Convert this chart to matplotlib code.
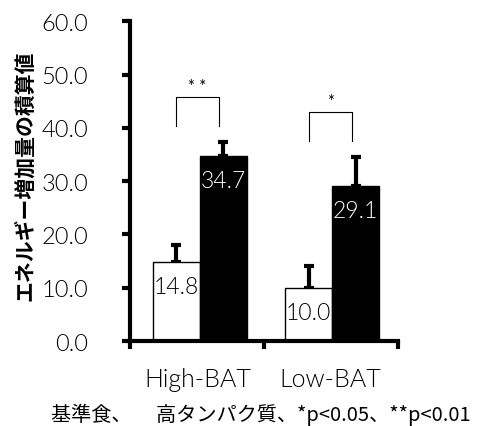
import numpy as np
import matplotlib
matplotlib.use("Agg")
import matplotlib.pyplot as plt

plt.rcParams['font.family'] = ['Lato', 'Noto Sans CJK JP', 'DejaVu Sans']

# data
groups = ['High-BAT', 'Low-BAT']
base_vals = [14.8, 10.0]      # 基準食
protein_vals = [34.7, 29.1]   # 高タンパク質
base_err = [3.2, 4.0]
protein_err = [2.6, 5.4]
sig_marks = ['* *', '*']
yticks = [0, 10, 20, 30, 40, 50, 60]

fig = plt.figure(figsize=(4.83, 4.27), dpi=100)
ax = fig.add_axes([0.269, 0.199, 0.555, 0.749])

centers = np.array([0.52, 1.51])
w = 0.35

ax.bar(centers - w / 2, base_vals, w, color='white', edgecolor='black', linewidth=1, zorder=2)
ax.bar(centers + w / 2, protein_vals, w, color='black', edgecolor='black', linewidth=1, zorder=2)
ax.errorbar(centers - w / 2, base_vals, yerr=[[0, 0], base_err], fmt='none',
            ecolor='black', elinewidth=3, capsize=3.5, capthick=3, zorder=1)
ax.errorbar(centers + w / 2, protein_vals, yerr=[[0, 0], protein_err], fmt='none',
            ecolor='black', elinewidth=3, capsize=3.5, capthick=3, zorder=1)

# value labels inside bars
for x, v in zip(centers - w / 2, base_vals):
    ax.text(x, v - 4.6, f'{v:.1f}', ha='center', va='center', fontsize=16.5,
            fontweight=300, color='black')
for x, v in zip(centers + w / 2, protein_vals):
    ax.text(x, v - 4.6, f'{v:.1f}', ha='center', va='center', fontsize=16.5,
            fontweight=300, color='white')

# significance brackets
for i, c in enumerate(centers):
    top = max(base_vals[i] + base_err[i], protein_vals[i] + protein_err[i])
    y0 = top + 3.0
    y1 = y0 + 5.5
    x0, x1 = c - w / 2, c + w / 2 - 0.03
    ax.plot([x0, x0, x1, x1], [y0, y1, y1, y0], color='black', lw=0.8)
    ax.text((x0 + x1) / 2, y1 + 0.6, sig_marks[i], ha='center', va='bottom',
            fontsize=12)

ax.set_xlim(0, 2)
ax.set_ylim(0, 60)
ax.set_yticks(yticks)
ax.set_yticklabels([f'{t:.1f}' for t in yticks], fontsize=17, fontweight=300)
ax.set_xticks([0, 1, 2])
ax.set_xticklabels([])
for c, g in zip(centers, groups):
    ax.text(c - 0.012, -8.4, g, ha='center', va='baseline', fontsize=18, fontweight=300)

for s in ['top', 'right']:
    ax.spines[s].set_visible(False)
for s in ['left', 'bottom']:
    ax.spines[s].set_linewidth(3)
ax.tick_params(axis='both', direction='out', length=6, width=3)
ax.tick_params(axis='y', pad=24)

fig.text(25 / 483, 1 - 176 / 427, 'エネルギー増加量の積算値', rotation=90, ha='center', va='center',
         fontsize=15, fontweight='bold', family=['Noto Sans CJK JP', 'DejaVu Sans'])

fig.text(0.54, 0.028, '基準食、　 高タンパク質、*p<0.05、**p<0.01', ha='center', va='center',
         fontsize=14.5, family=['Noto Sans CJK JP', 'DejaVu Sans'])

fig.savefig('out.png', dpi=100)
